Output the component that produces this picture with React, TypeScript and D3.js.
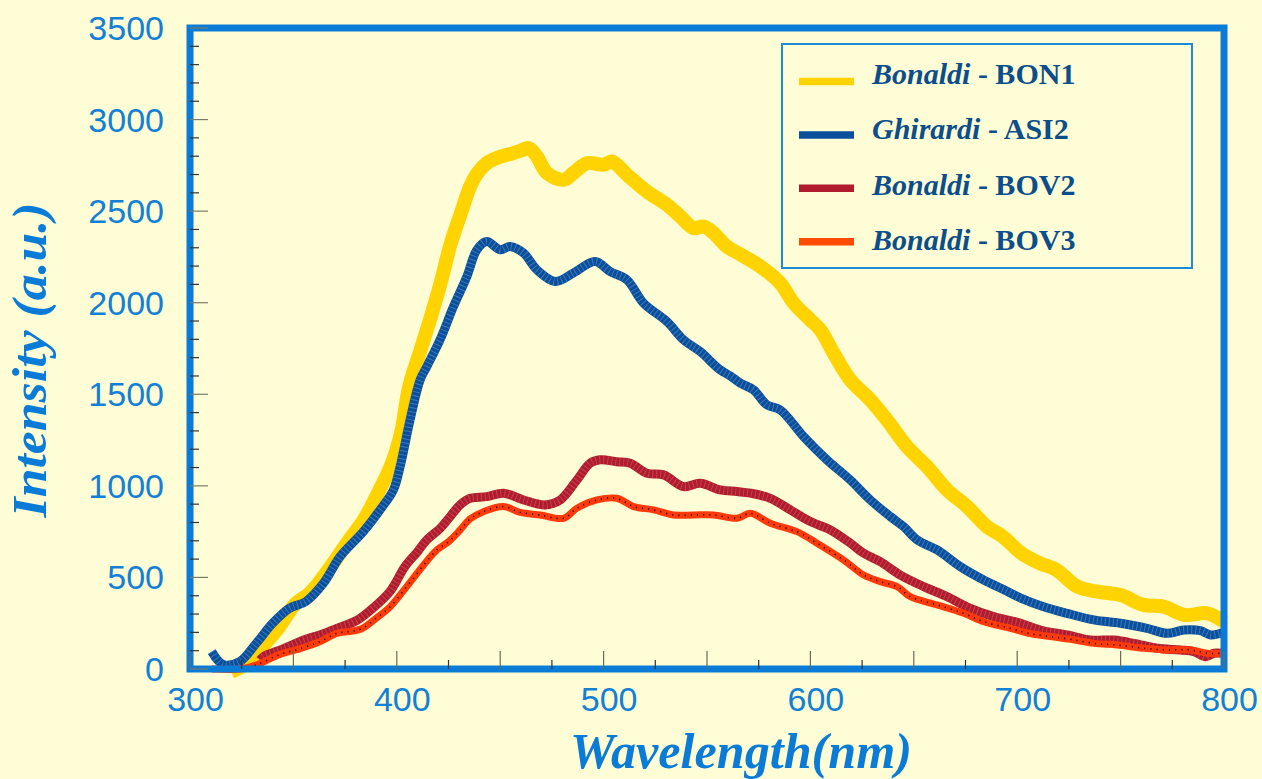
import React from "react";
import * as d3 from "d3";

// Emission spectra: wavelength (nm) and intensity (a.u.) per sample
const BON1_WL = [320, 326, 332, 342, 351, 358, 368, 377, 384, 390, 397, 402, 406, 411, 416, 421, 426, 431, 435.5, 439, 443.5, 448.4, 456.4, 460, 463.7, 467.7, 472.6, 480.6, 485.4, 491.9, 499.9, 504, 511.3, 521, 530.6, 537.1, 543.5, 548.4, 553.2, 559.6, 566, 575.8, 585.4, 591.9, 600, 604.8, 611.2, 619.3, 629, 637, 646.7, 656.4, 666.1, 675.8, 685.4, 693, 702, 711, 719, 729, 739, 750, 761, 771, 781, 792, 800];
const BON1_INT = [-15, 20, 86, 213, 355, 415, 559, 705, 814, 941, 1105, 1287, 1542, 1725, 1906, 2100, 2320, 2489, 2635, 2708, 2762, 2790, 2817, 2830, 2844, 2799, 2708, 2671, 2708, 2762, 2753, 2771, 2699, 2607, 2535, 2471, 2407, 2416, 2380, 2307, 2265, 2198, 2107, 1998, 1906, 1852, 1725, 1579, 1469, 1360, 1214, 1105, 978, 887, 777, 723, 632, 577, 541, 450, 422, 404, 350, 340, 295, 304, 258];

const ASI2_WL = [310.5, 316, 324, 332, 340, 348, 356, 364.5, 372.6, 383.8, 391.9, 398.4, 401.6, 406.4, 411.3, 414.5, 421, 427.4, 433.9, 438.7, 443.5, 450, 454.8, 461.3, 467.7, 476.6, 485.4, 495.9, 503.2, 511.3, 519.3, 530.6, 538.7, 546.7, 556.4, 561.3, 566.1, 572.5, 579, 585.4, 596.7, 608, 619.3, 629, 638.7, 645.1, 651.6, 661.3, 672.5, 683.8, 693, 702, 712.8, 724.1, 737, 749.9, 762.8, 772.5, 780.6, 788.6, 793.5, 799.2];
const ASI2_INT = [95, 25, 40, 140, 250, 331, 368, 468, 614, 750, 869, 978, 1105, 1360, 1579, 1651, 1800, 1979, 2143, 2289, 2334, 2289, 2307, 2271, 2180, 2116, 2162, 2225, 2170, 2125, 1998, 1897, 1797, 1733, 1633, 1600, 1561, 1524, 1442, 1415, 1269, 1142, 1032, 923, 832, 777, 705, 650, 559, 486, 436, 386, 340, 304, 268, 250, 222, 195, 213, 209, 186, 198];

const BOV2_WL = [333.9, 335.5, 345, 355, 364.5, 371, 380.6, 388.7, 396.8, 404, 410, 414.5, 421, 425.8, 430.6, 435.5, 443.5, 451.6, 461.3, 471.5, 479, 487.1, 493.5, 498.4, 506.4, 512.9, 521, 529, 538.7, 546.7, 556.4, 564.5, 571, 580.6, 590.3, 600, 609.7, 619.3, 625.8, 633.8, 643.5, 654.8, 666.1, 677.4, 688.6, 701, 711.2, 724.1, 735.5, 746.8, 756.5, 767.7, 779, 785.5, 791.1, 795.2, 799.2];
const BOV2_INT = [49, 67, 110, 158, 192, 222, 265, 335, 425, 560, 640, 705, 768, 832, 896, 932, 941, 960, 923, 896, 923, 1032, 1124, 1142, 1132, 1124, 1069, 1060, 996, 1014, 978, 969, 960, 932, 869, 805, 759, 687, 632, 586, 513, 450, 395, 331, 286, 252, 213, 186, 158, 158, 140, 113, 104, 95, 67, 86, 86];

const BOV3_WL = [310.5, 324, 332, 343.5, 353, 363, 371, 377.4, 383, 390, 396.8, 404.8, 412.9, 419.4, 425, 430.6, 435.5, 441.9, 451.6, 459.7, 469.3, 480.6, 487.1, 496.8, 506.4, 514.5, 524.2, 533.8, 543.5, 553.2, 564.5, 571, 580.6, 593.5, 603.2, 616.1, 625.8, 633.8, 641.9, 648.3, 661.2, 674.1, 683.8, 696.7, 705.5, 716.1, 725.8, 737.1, 748.4, 761.3, 772.5, 783.8, 791.9, 799.2];
const BOV3_INT = [0, 0, 22, 80, 110, 150, 195, 205, 220, 277, 340, 450, 567, 650, 695, 759, 820, 859, 887, 855, 841, 823, 878, 923, 932, 887, 869, 841, 841, 841, 823, 850, 796, 750, 687, 595, 513, 477, 450, 395, 350, 304, 258, 222, 195, 177, 162, 140, 131, 113, 104, 104, 86, 86];

const X_TICK_LABELS = [300, 400, 500, 600, 700, 800];
const Y_TICK_LABELS = [0, 500, 1000, 1500, 2000, 2500, 3000, 3500];

type Series = {
  id: string;
  sample: string;
  code: string;
  wl: number[];
  val: number[];
  color: string;
  legendColor: string;
  width: number;
  texture?: { color: string; width: number; dash: string; opacity: number };
};

const SERIES: Series[] = [
  { id: "bon1", sample: "Bonaldi", code: "BON1", wl: BON1_WL, val: BON1_INT, color: "#FFD300", legendColor: "#FFD300", width: 14 },
  {
    id: "asi2", sample: "Ghirardi", code: "ASI2", wl: ASI2_WL, val: ASI2_INT, color: "#0A4F9C", legendColor: "#0A4F9C", width: 9,
    texture: { color: "#6A9BD0", width: 8, dash: "1 3", opacity: 0.55 },
  },
  {
    id: "bov2", sample: "Bonaldi", code: "BOV2", wl: BOV2_WL, val: BOV2_INT, color: "#B01C2E", legendColor: "#B01C2E", width: 9,
    texture: { color: "#E07070", width: 8, dash: "1 3", opacity: 0.45 },
  },
  {
    id: "bov3", sample: "Bonaldi", code: "BOV3", wl: BOV3_WL, val: BOV3_INT, color: "#FF3A0A", legendColor: "#FF4A00", width: 7,
    texture: { color: "#000000", width: 1.6, dash: "1.2 5", opacity: 0.85 },
  },
];

const W = 1262;
const H = 779;
const BG = "#FFFDD5";
const FRAME = "#0A7BD6";
const LABEL_BLUE = "#1180D6";
const LEGEND_TEXT = "#0C4E8C";
const SERIF = "'Liberation Serif', 'Times New Roman', Times, serif";
const SANS = "'Liberation Sans', Arial, Helvetica, sans-serif";

export default function App() {
  const x = d3.scaleLinear().domain([300, 800]).range([190, 1224]);
  const y = d3.scaleLinear().domain([0, 3500]).range([669, 28]);

  const line = d3
    .line<[number, number]>()
    .x((d) => x(d[0]))
    .y((d) => y(d[1]))
    .curve(d3.curveCatmullRom.alpha(0.5));

  const xTicks = d3.range(300, 801, 25);
  const yTicks = d3.range(0, 3501, 100);

  React.useEffect(() => {
    document.body.style.margin = "0";
    document.body.style.background = BG;
  }, []);

  return (
    <svg width={W} height={H} style={{ display: "block", background: BG }}>
      <rect x={0} y={0} width={W} height={H} fill={BG} />

      {/* spectra */}
      {SERIES.map((s) => {
        const pts = s.wl.map((w, i) => [w, s.val[i]] as [number, number]);
        const d = line(pts) || "";
        return (
          <g key={s.id}>
            <path d={d} fill="none" stroke={s.color} strokeWidth={s.width} strokeLinejoin="round" strokeLinecap="butt" />
            {s.texture && (
              <path
                d={d}
                fill="none"
                stroke={s.texture.color}
                strokeWidth={s.texture.width}
                strokeDasharray={s.texture.dash}
                strokeOpacity={s.texture.opacity}
              />
            )}
          </g>
        );
      })}

      {/* plot frame */}
      <rect x={x(300)} y={y(3500)} width={x(800) - x(300)} height={y(0) - y(3500)} fill="none" stroke={FRAME} strokeWidth={7} />

      {/* inner ticks */}
      {yTicks.map((t) => (
        <line
          key={"yt" + t}
          x1={x(300)}
          x2={x(300) + (t % 500 === 0 ? 18 : 9)}
          y1={y(t)}
          y2={y(t)}
          stroke={t % 500 === 0 ? "#7a7a6a" : "#333"}
          strokeWidth={1.2}
        />
      ))}
      {xTicks.map((t) => (
        <line
          key={"xt" + t}
          x1={x(t)}
          x2={x(t)}
          y1={y(0)}
          y2={y(0) - (t % 50 === 0 ? 18 : 9)}
          stroke={t % 50 === 0 ? "#6a6a5a" : "#333"}
          strokeWidth={1.2}
        />
      ))}

      {/* tick labels */}
      {Y_TICK_LABELS.map((t) => (
        <text key={"yl" + t} x={164} y={y(t) + 12} textAnchor="end" fontFamily={SANS} fontSize={34} fill={LABEL_BLUE}>
          {t}
        </text>
      ))}
      {X_TICK_LABELS.map((t) => (
        <text key={"xl" + t} x={x(t) + 5.5} y={711} textAnchor="middle" fontFamily={SANS} fontSize={34} fill={LABEL_BLUE}>
          {t}
        </text>
      ))}

      {/* axis titles */}
      <text
        transform="translate(46,360) rotate(-90)"
        textAnchor="middle"
        fontFamily={SERIF}
        fontSize={48}
        fontWeight="bold"
        fontStyle="italic"
        fill={FRAME}
        textLength={315}
        lengthAdjust="spacingAndGlyphs"
      >
        Intensity (a.u.)
      </text>
      <text
        x={741}
        y={768}
        textAnchor="middle"
        fontFamily={SERIF}
        fontSize={50}
        fontWeight="bold"
        fontStyle="italic"
        fill={FRAME}
        textLength={342}
        lengthAdjust="spacingAndGlyphs"
      >
        Wavelength(nm)
      </text>

      {/* legend */}
      <rect x={782} y={44} width={410} height={224} fill={BG} stroke="#1E8AD8" strokeWidth={2} />
      {SERIES.map((s, i) => (
        <g key={"lg" + s.id}>
          <line x1={799} x2={854} y1={81.5 + i * 53.4} y2={81.5 + i * 53.4} stroke={s.legendColor} strokeWidth={7.5} />
          <text x={872} y={83.5 + i * 55.5} fontFamily={SERIF} fontSize={30} fontWeight="bold" fill={LEGEND_TEXT}>
            <tspan fontStyle="italic">{s.sample}</tspan>
            <tspan>{" - " + s.code}</tspan>
          </text>
        </g>
      ))}
    </svg>
  );
}
